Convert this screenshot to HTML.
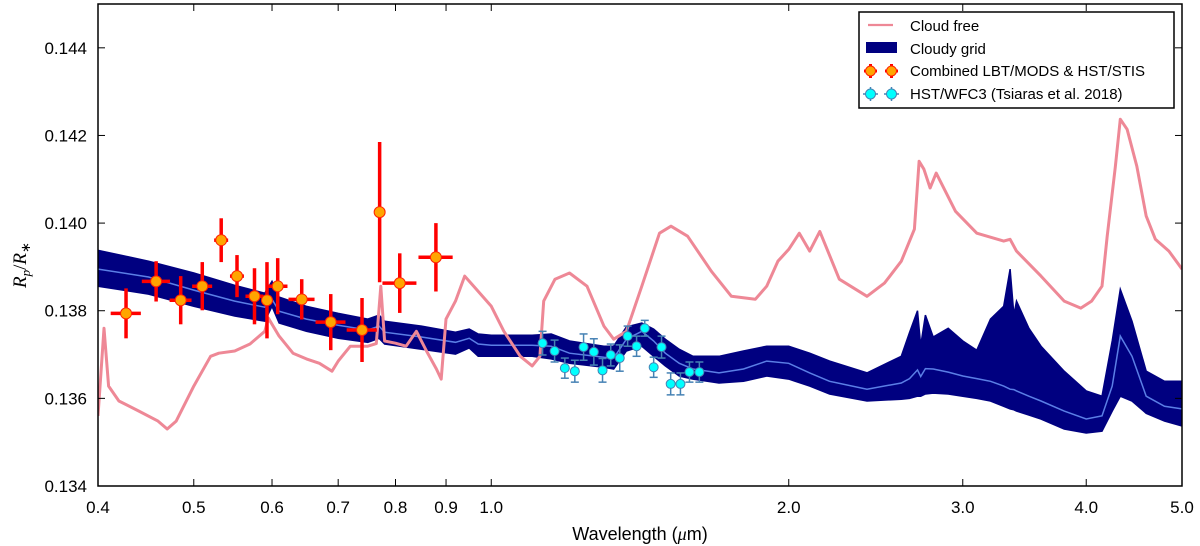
<!DOCTYPE html>
<html><head><meta charset="utf-8"><style>
body{margin:0;background:#fff;}
svg{display:block;font-family:"Liberation Sans","DejaVu Sans",sans-serif;}
</style></head><body>
<svg id="chart" width="1200" height="546" viewBox="0 0 1200 546">
<defs><clipPath id="pc"><rect x="98" y="4" width="1084" height="482"/></clipPath></defs>
<g id="plot" clip-path="url(#pc)"></g>
<g id="axes"></g>
</svg>
<script>
// ---- data ----
const cfWl=[0.400,0.4056,0.41,0.42,0.44,0.46,0.47,0.48,0.50,0.52,0.53,0.55,0.57,0.59,0.595,0.61,0.63,0.65,0.67,0.69,0.70,0.72,0.75,0.765,0.773,0.78,0.80,0.82,0.84,0.86,0.88,0.89,0.90,0.92,0.94,0.96,1.00,1.03,1.07,1.10,1.12,1.13,1.16,1.20,1.25,1.30,1.33,1.37,1.42,1.48,1.52,1.58,1.67,1.75,1.85,1.90,1.95,2.0,2.05,2.1,2.15,2.25,2.4,2.5,2.6,2.68,2.71,2.74,2.78,2.82,2.95,3.1,3.3,3.35,3.4,3.6,3.8,3.95,4.05,4.15,4.2,4.28,4.33,4.4,4.5,4.6,4.7,4.85,5.0];
const cfVal=[0.13560,0.13760,0.13628,0.13594,0.13571,0.13548,0.13530,0.13548,0.13628,0.13696,0.13703,0.13708,0.13724,0.13753,0.13783,0.13742,0.13703,0.13690,0.13680,0.13662,0.13685,0.13719,0.13719,0.13725,0.13856,0.13731,0.13726,0.13719,0.13753,0.13708,0.13667,0.13644,0.13781,0.13822,0.13879,0.13856,0.13810,0.13753,0.13696,0.13674,0.13696,0.13822,0.13872,0.13886,0.13856,0.13765,0.13735,0.13753,0.13856,0.13977,0.13993,0.13970,0.13890,0.13833,0.13826,0.13856,0.13913,0.13940,0.13977,0.13936,0.13981,0.13872,0.13833,0.13863,0.13913,0.13986,0.14141,0.14123,0.14080,0.14114,0.14027,0.13977,0.13959,0.13963,0.13936,0.13879,0.13822,0.13806,0.13822,0.13856,0.13970,0.14128,0.14237,0.14214,0.14130,0.14016,0.13963,0.13936,0.13895];
const cgWl=[0.40,0.45,0.50,0.55,0.59,0.60,0.61,0.65,0.70,0.75,0.77,0.78,0.85,0.92,0.95,0.97,1.0,1.1,1.15,1.2,1.3,1.33,1.37,1.42,1.46,1.5,1.55,1.6,1.7,1.8,1.9,2.0,2.1,2.2,2.4,2.6,2.65,2.7,2.72,2.75,2.8,2.9,3.0,3.1,3.2,3.3,3.35,3.38,3.4,3.5,3.6,3.8,4.0,4.15,4.25,4.33,4.45,4.6,4.8,5.0];
const cgMid=[0.13895,0.13877,0.13847,0.13822,0.13808,0.13826,0.13799,0.13781,0.13767,0.13756,0.13765,0.13751,0.13740,0.13728,0.13737,0.13724,0.13721,0.13721,0.13719,0.13703,0.13694,0.13692,0.13735,0.13753,0.13731,0.13703,0.13680,0.13667,0.13658,0.13667,0.13685,0.13680,0.13658,0.13639,0.13621,0.13635,0.13645,0.13665,0.13650,0.13668,0.13667,0.13660,0.13651,0.13645,0.13639,0.13628,0.13621,0.13620,0.13617,0.13605,0.13594,0.13571,0.13553,0.13560,0.13628,0.13742,0.13696,0.13605,0.13582,0.13576];
const cgHi=[0.13938,0.13913,0.13886,0.13858,0.13840,0.13867,0.13831,0.13810,0.13794,0.13781,0.13790,0.13776,0.13765,0.13751,0.13758,0.13747,0.13744,0.13744,0.13747,0.13731,0.13719,0.13719,0.13763,0.13772,0.13758,0.13735,0.13712,0.13696,0.13696,0.13708,0.13719,0.13719,0.13703,0.13685,0.13658,0.13696,0.13750,0.13800,0.13720,0.13790,0.13740,0.13760,0.13731,0.13710,0.13781,0.13810,0.13895,0.13790,0.13822,0.13760,0.13719,0.13662,0.13617,0.13605,0.13731,0.13849,0.13776,0.13662,0.13639,0.13639];
const cgLo=[0.13856,0.13838,0.13810,0.13788,0.13776,0.13810,0.13772,0.13753,0.13737,0.13728,0.13737,0.13724,0.13712,0.13701,0.13715,0.13696,0.13696,0.13696,0.13690,0.13680,0.13671,0.13667,0.13708,0.13719,0.13696,0.13674,0.13651,0.13644,0.13635,0.13639,0.13651,0.13644,0.13628,0.13610,0.13594,0.13598,0.13600,0.13605,0.13605,0.13610,0.13612,0.13610,0.13605,0.13600,0.13594,0.13582,0.13576,0.13574,0.13571,0.13562,0.13553,0.13530,0.13521,0.13525,0.13571,0.13605,0.13594,0.13566,0.13548,0.13537];
const lbtWl=[0.427,0.458,0.485,0.510,0.533,0.553,0.576,0.593,0.608,0.643,0.688,0.740,0.771,0.808,0.879];
const lbtVal=[0.13794,0.13867,0.13824,0.13856,0.13961,0.13879,0.13833,0.13824,0.13856,0.13826,0.13774,0.13756,0.14025,0.13863,0.13922];
const lbtXerr=[0.015,0.015,0.0124,0.0119,0.0087,0.009,0.012,0.007,0.014,0.0195,0.024,0.026,0.007,0.032,0.035];
const lbtYerr=[0.00057,0.00046,0.00055,0.00055,0.0005,0.00048,0.00064,0.00087,0.00064,0.00046,0.00064,0.00073,0.0016,0.00068,0.00078];
const wfcWl=[1.127,1.159,1.187,1.215,1.240,1.270,1.296,1.321,1.349,1.374,1.403,1.430,1.460,1.487,1.519,1.554,1.587,1.624];
const wfcVal=[0.13726,0.13708,0.13669,0.13662,0.13717,0.13706,0.13664,0.13699,0.13692,0.13742,0.13719,0.13760,0.13671,0.13717,0.13633,0.13633,0.13660,0.13660];
const wfcYerr=[0.00027,0.00025,0.00023,0.00025,0.0003,0.0003,0.00027,0.00025,0.0003,0.00023,0.00023,0.00018,0.00023,0.00025,0.00025,0.00025,0.00023,0.00023];
const xTicks=[0.4,0.5,0.6,0.7,0.8,0.9,1.0,2.0,3.0,4.0,5.0];
const xTickLabels=["0.4","0.5","0.6","0.7","0.8","0.9","1.0","2.0","3.0","4.0","5.0"];
const yTicks=[0.134,0.136,0.138,0.140,0.142,0.144];
const yTickLabels=["0.134","0.136","0.138","0.140","0.142","0.144"];
// ---- axes ----
const X0=98,X1=1182,Y0=4,Y1=486,XMIN=0.4,XMAX=5.0,YMIN=0.134,YMAX=0.145;
const ns="http://www.w3.org/2000/svg";
function xs(w){return X0+(X1-X0)*Math.log10(w/XMIN)/Math.log10(XMAX/XMIN);}
function ys(v){return Y1-(Y1-Y0)*(v-YMIN)/(YMAX-YMIN);}
function mk(tag,attrs,parent){const e=document.createElementNS(ns,tag);for(const k in attrs)e.setAttribute(k,attrs[k]);parent.appendChild(e);return e;}
const plot=document.getElementById('plot'),axes=document.getElementById('axes');
let d='M'+cgWl.map((w,i)=>xs(w).toFixed(1)+','+ys(cgHi[i]).toFixed(1)).join('L');
for(let i=cgWl.length-1;i>=0;i--)d+='L'+xs(cgWl[i]).toFixed(1)+','+ys(cgLo[i]).toFixed(1);
let el=mk('path',{d:d+'Z',fill:'#000080',stroke:'#000080','stroke-width':1.5},plot);


el=mk('polyline',{points:cgWl.map((w,i)=>xs(w).toFixed(1)+','+ys(cgMid[i]).toFixed(1)).join(' '),fill:'none',stroke:'#5b7fe6','stroke-width':1.5},plot);


el=mk('polyline',{points:cfWl.map((w,i)=>xs(w).toFixed(1)+','+ys(cfVal[i]).toFixed(1)).join(' '),fill:'none',stroke:'#ee8896','stroke-width':3,'stroke-linejoin':'round'},plot);


lbtWl.forEach((w,i)=>{
 const g=mk('g',{},plot);
 
 
 const cx=xs(w),cy=ys(lbtVal[i]);
 mk('line',{x1:xs(w-lbtXerr[i]),x2:xs(w+lbtXerr[i]),y1:cy,y2:cy,stroke:'#ff0000','stroke-width':3.5},g);
 mk('line',{x1:cx,x2:cx,y1:ys(lbtVal[i]-lbtYerr[i]),y2:ys(lbtVal[i]+lbtYerr[i]),stroke:'#ff0000','stroke-width':3.5},g);
 mk('circle',{cx:cx,cy:cy,r:5.5,fill:'#ffa500',stroke:'#ff2200','stroke-width':1},g);
});
wfcWl.forEach((w,i)=>{
 const g=mk('g',{},plot);
 
 
 const cx=xs(w),cy=ys(wfcVal[i]),t=ys(wfcVal[i]+wfcYerr[i]),b=ys(wfcVal[i]-wfcYerr[i]);
 mk('line',{x1:cx,x2:cx,y1:t,y2:b,stroke:'#4682b4','stroke-width':1.5},g);
 mk('line',{x1:cx-4,x2:cx+4,y1:t,y2:t,stroke:'#4682b4','stroke-width':1.5},g);
 mk('line',{x1:cx-4,x2:cx+4,y1:b,y2:b,stroke:'#4682b4','stroke-width':1.5},g);
 mk('circle',{cx:cx,cy:cy,r:4.5,fill:'#00ffff',stroke:'#4682b4','stroke-width':1},g);
});
el=mk('rect',{x:X0,y:Y0,width:X1-X0,height:Y1-Y0,fill:'none',stroke:'#000','stroke-width':1.5},axes);


xTicks.forEach((t,i)=>{
 const x=xs(t);
 mk('line',{x1:x,x2:x,y1:Y1,y2:Y1-7,stroke:'#000','stroke-width':1},axes);
 mk('line',{x1:x,x2:x,y1:Y0,y2:Y0+7,stroke:'#000','stroke-width':1},axes);
 const tx=mk('text',{x:x,y:513,'font-size':17,'text-anchor':'middle',fill:'#000'},axes);
 tx.textContent=xTickLabels[i];
 
 
});
yTicks.forEach((t,i)=>{
 const y=ys(t);
 mk('line',{x1:X0,x2:X0+7,y1:y,y2:y,stroke:'#000','stroke-width':1},axes);
 mk('line',{x1:X1,x2:X1-7,y1:y,y2:y,stroke:'#000','stroke-width':1},axes);
 const tx=mk('text',{x:87,y:y+6,'font-size':17,'text-anchor':'end',fill:'#000'},axes);
 tx.textContent=yTickLabels[i];
 
 
});
</script>
<div style="position:absolute;left:0;top:0;width:1200px;height:546px;pointer-events:none;">
<svg width="1200" height="546" style="position:absolute;left:0;top:0;font-family:'Liberation Sans','DejaVu Sans',sans-serif;">
<text x="640" y="540" font-size="18" text-anchor="middle">Wavelength (<tspan font-family="'Liberation Serif',serif" font-style="italic">μ</tspan>m)</text>
<text transform="translate(26,265) rotate(-90)" font-size="19" text-anchor="middle" font-family="'Liberation Serif',serif"><tspan font-style="italic">R</tspan><tspan font-style="italic" font-size="13" dy="4">p</tspan><tspan dy="-4">/</tspan><tspan font-style="italic">R</tspan><tspan font-size="13" dy="4">∗</tspan></text>
<g>
<rect x="859" y="12" width="315" height="96" fill="#fff" stroke="#000" stroke-width="1.5"/>
<g>
<line x1="868" x2="893" y1="25" y2="25" stroke="#ee8896" stroke-width="2.2"/>
<text x="910" y="31" font-size="15">Cloud free</text></g>
<g>
<rect x="866" y="42" width="31" height="11" fill="#000080"/>
<text x="910" y="54" font-size="15">Cloudy grid</text></g>
<g>
<line x1="864" x2="877" y1="71" y2="71" stroke="#f00" stroke-width="3"/><line x1="870.5" x2="870.5" y1="64" y2="78" stroke="#f00" stroke-width="3"/><circle cx="870.5" cy="71" r="5" fill="#ffa500" stroke="#f20"/>
<line x1="885" x2="898" y1="71" y2="71" stroke="#f00" stroke-width="3"/><line x1="891.5" x2="891.5" y1="64" y2="78" stroke="#f00" stroke-width="3"/><circle cx="891.5" cy="71" r="5" fill="#ffa500" stroke="#f20"/>
<text x="910" y="76" font-size="15">Combined LBT/MODS &amp; HST/STIS</text></g>
<g>
<line x1="863" x2="878" y1="94" y2="94" stroke="#4682b4" stroke-width="1.5"/><line x1="870.5" x2="870.5" y1="87" y2="101" stroke="#4682b4" stroke-width="1.5"/><circle cx="870.5" cy="94" r="5" fill="#0ff" stroke="#4682b4"/>
<line x1="884" x2="899" y1="94" y2="94" stroke="#4682b4" stroke-width="1.5"/><line x1="891.5" x2="891.5" y1="87" y2="101" stroke="#4682b4" stroke-width="1.5"/><circle cx="891.5" cy="94" r="5" fill="#0ff" stroke="#4682b4"/>
<text x="910" y="99" font-size="15">HST/WFC3 (Tsiaras et al. 2018)</text></g>
</g>
</svg></div>
</body></html>
